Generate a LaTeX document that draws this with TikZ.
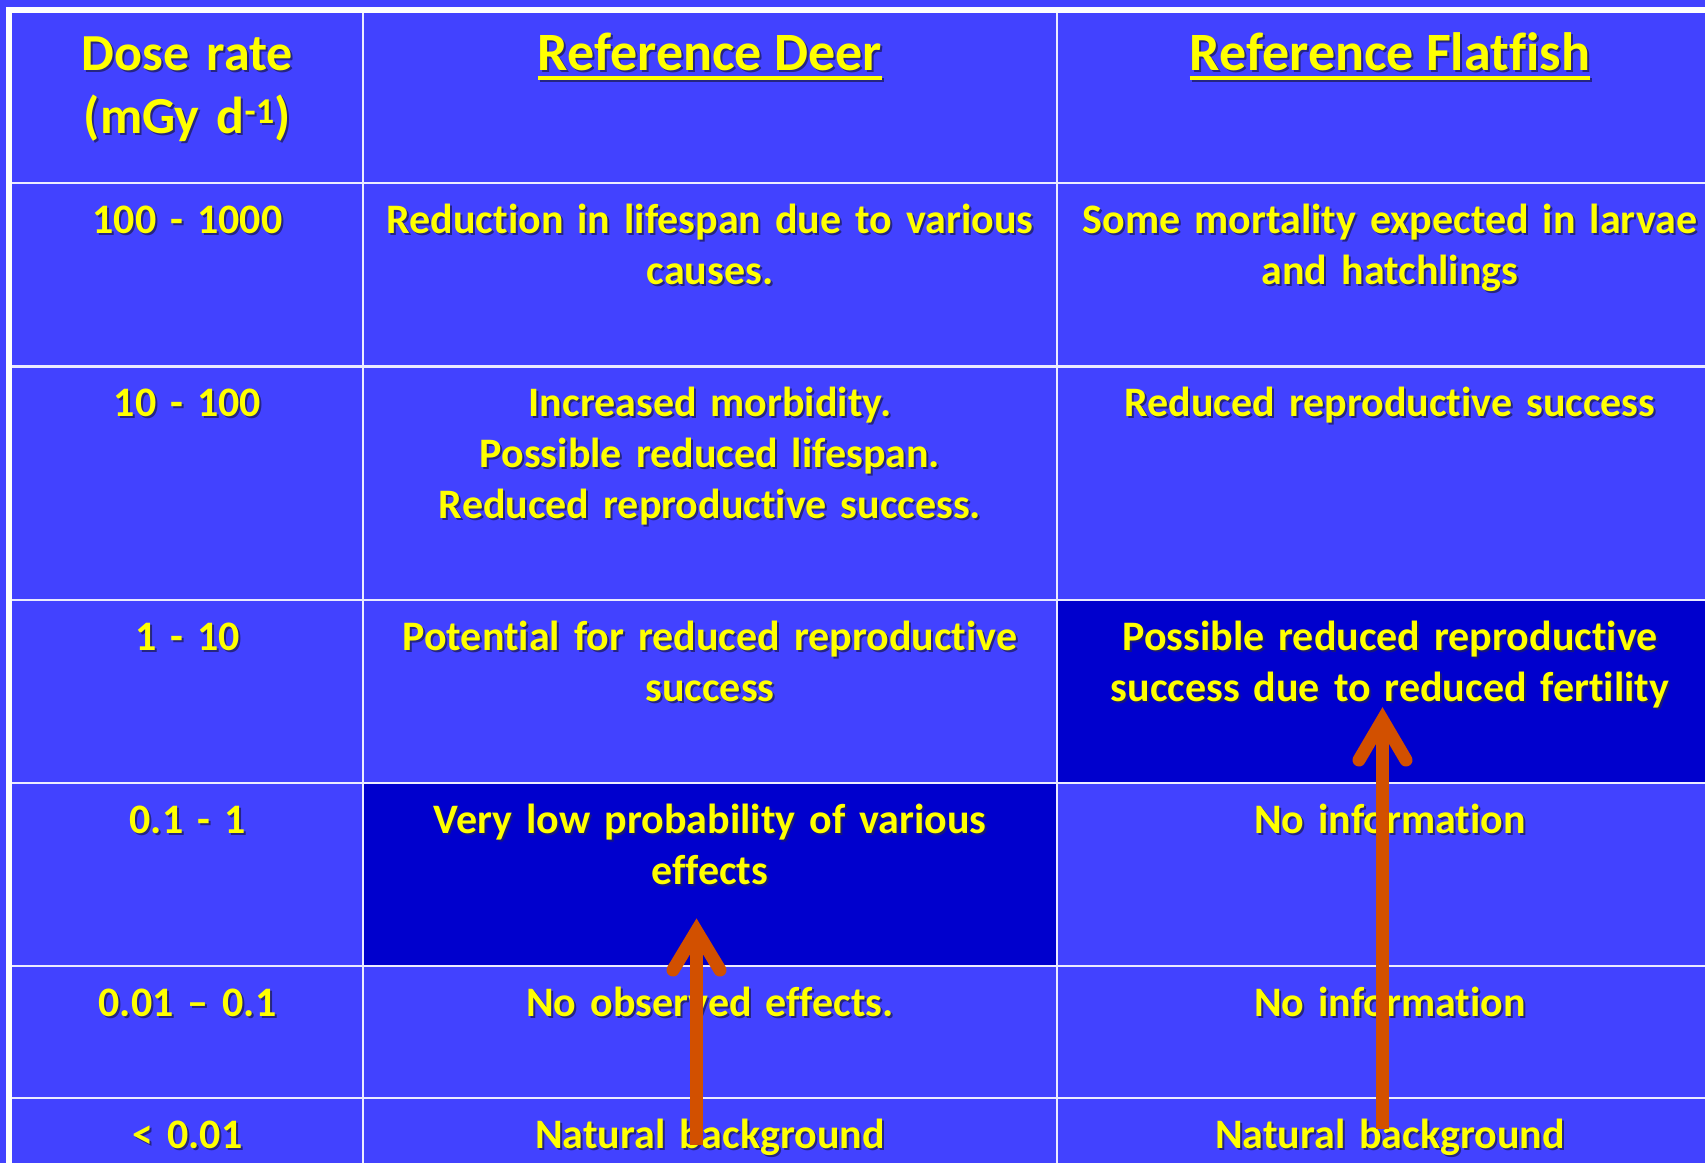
\documentclass[tikz,border=0pt]{standalone}
\usepackage{fontspec}
\setmainfont{Carlito}[Ligatures={NoCommon}]
\definecolor{bgblue}{RGB}{66,66,255}
\definecolor{darkcell}{RGB}{0,0,205}
\definecolor{txtyellow}{RGB}{255,255,0}
\definecolor{shadowc}{RGB}{30,30,100}
\definecolor{arrowc}{RGB}{210,80,0}
\definecolor{gridc}{RGB}{235,235,255}
\newcommand\mycell[4]{%
  \node[#3, text=shadowc, opacity=0.8] (#1-s) at ([shift={(2,2)}]#2) {#4};
  \node[#3] (#1) at (#2) {#4};
}
\tikzset{
  body/.style={anchor=base, inner sep=0pt, align=center, text width=680pt,
    text=txtyellow, font=\fontsize{42}{51}\selectfont\bfseries},
  head/.style={anchor=base, inner sep=0pt, align=center, text width=340pt,
    text=txtyellow, font=\fontsize{52}{63}\selectfont\bfseries},
  headone/.style={anchor=base, inner sep=0pt,
    text=txtyellow, font=\fontsize{54}{63}\selectfont\bfseries},
  gridline/.style={draw=gridc, line width=2.5pt},
  frame/.style={draw=white, line width=6pt},
  ul/.style={draw=txtyellow, line width=4pt},
  ulshadow/.style={draw=shadowc, line width=4pt, opacity=0.8},
  shaft/.style={draw=arrowc, line width=13pt},
  vhead/.style={draw=arrowc, line width=13pt, line cap=round, line join=miter},
}
\begin{document}
\begin{tikzpicture}[x=1pt,y=-1pt]
\useasboundingbox (0,0) rectangle (1705,1163);
% background
\fill[bgblue] (0,0) rectangle (1705,1163);
% highlighted cells
\fill[darkcell] (363,783) rectangle (1057,966);
\fill[darkcell] (1057,600) rectangle (1705,783);
% grid
\foreach \yy in {183,366.5,600,783,966,1098} {\draw[gridline] (9,\yy) -- (1705,\yy);}
\foreach \xx in {363,1057} {\draw[gridline] (\xx,10) -- (\xx,1163);}
% outer frame
\draw[frame] (1705,10) -- (9,10) -- (9,1163);
% header row
\mycell{h1}{187.5,70}{head}{Dose rate\\(mGy d\textsuperscript{-1})}
\mycell{h2}{710,70}{headone}{Reference Deer}
\mycell{h3}{1390,70}{headone}{Reference Flatfish}
\draw[ulshadow] ([shift={(2,10)}]h2.base west) -- ([shift={(2,10)}]h2.base east);
\draw[ul] ([yshift=-8pt]h2.base west) -- ([yshift=-8pt]h2.base east);
\draw[ulshadow] ([shift={(2,10)}]h3.base west) -- ([shift={(2,10)}]h3.base east);
\draw[ul] ([yshift=-8pt]h3.base west) -- ([yshift=-8pt]h3.base east);
% column 1
\mycell{r1c1}{187.5,233}{body}{100 - 1000}
\mycell{r2c1}{187.5,416.5}{body}{10 - 100}
\mycell{r3c1}{187.5,650}{body}{1 - 10}
\mycell{r4c1}{187.5,833}{body}{0.1 - 1}
\mycell{r5c1}{187.5,1016}{body}{0.01 – 0.1}
\mycell{r6c1}{187.5,1148}{body}{< 0.01}
% column 2
\mycell{r1c2}{710,233}{body}{Reduction in lifespan due to various\\causes.}
\mycell{r2c2}{710,416.5}{body}{Increased morbidity.\\Possible reduced lifespan.\\Reduced reproductive success.}
\mycell{r3c2}{710,650}{body}{Potential for reduced reproductive\\success}
\mycell{r4c2}{710,833}{body}{Very low probability of various\\effects}
\mycell{r5c2}{710,1016}{body}{No observed effects.}
\mycell{r6c2}{710,1148}{body}{Natural background}
% column 3
\mycell{r1c3}{1390,233}{body}{Some mortality expected in larvae\\and hatchlings}
\mycell{r2c3}{1390,416.5}{body}{Reduced reproductive success}
\mycell{r3c3}{1390,650}{body}{Possible reduced reproductive\\success due to reduced fertility}
\mycell{r4c3}{1390,833}{body}{No information}
\mycell{r5c3}{1390,1016}{body}{No information}
\mycell{r6c3}{1390,1148}{body}{Natural background}
% arrows
\coordinate (a1b) at (696.5,1145);
\coordinate (a1t) at (696.5,931);
\coordinate (a2b) at (1382.5,1129);
\coordinate (a2t) at (1382.5,720);
\draw[shaft] (a1b) -- ([yshift=-4pt]a1t);
\draw[vhead] ([shift={(-23.5,39)}]a1t) -- (a1t) -- ([shift={(23.5,39)}]a1t);
\draw[shaft] (a2b) -- ([yshift=-4pt]a2t);
\draw[vhead] ([shift={(-23.5,40)}]a2t) -- (a2t) -- ([shift={(23.5,40)}]a2t);
\end{tikzpicture}
\end{document}
